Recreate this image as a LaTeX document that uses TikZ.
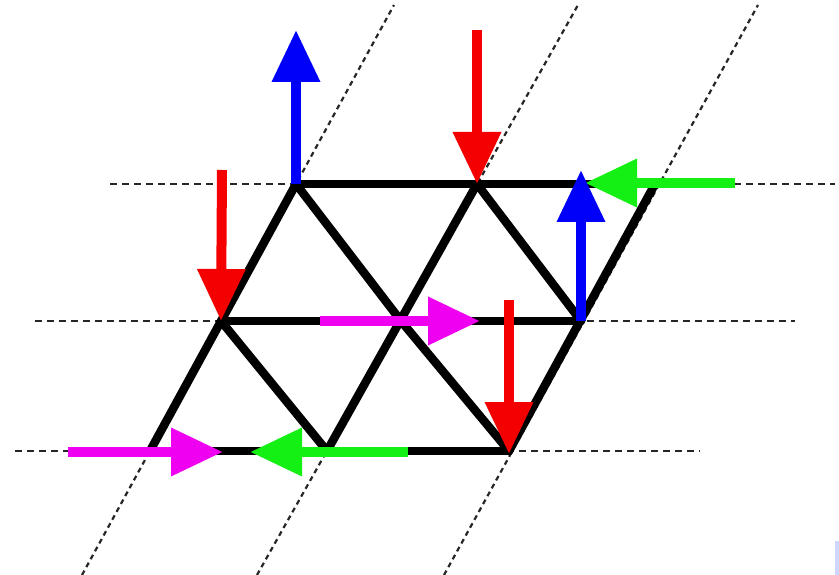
\documentclass[tikz,border=0pt]{standalone}
\usetikzlibrary{arrows.meta}
\begin{document}
\begin{tikzpicture}[x=1pt,y=-1pt,
  guide/.style={black!85,line width=1.5pt,dash pattern=on 7pt off 5pt},
  slant/.style={black!85,line width=2.2pt,dash pattern=on 5pt off 4pt},
  bond/.style={black,line width=8.5pt,line cap=round,line join=round},
  spin/.style={line width=10pt,-{Triangle[length=52pt,width=46pt]}},
]
\useasboundingbox (0,0) rectangle (839,575);
\definecolor{cblue}{RGB}{0,0,250}
\definecolor{cred}{RGB}{245,0,0}
\definecolor{cgreen}{RGB}{20,240,20}
\definecolor{cmag}{RGB}{240,0,240}
\definecolor{cpale}{RGB}{205,215,255}
% lattice vertices
\coordinate (A1) at (150,451);
\coordinate (A2) at (327,451);
\coordinate (A3) at (509,451);
\coordinate (B1) at (221,321);
\coordinate (B2) at (401,321);
\coordinate (B3) at (581,321);
\coordinate (C1) at (296,184);
\coordinate (C2) at (477,184);
\coordinate (C3) at (655,184);
% guide line ends
\coordinate (hCl) at (110,184); \coordinate (hCr) at (835,184);
\coordinate (hBl) at (35,321);  \coordinate (hBr) at (795,321);
\coordinate (hAl) at (15,451);  \coordinate (hAr) at (700,451);
\coordinate (d1a) at (82,575);  \coordinate (d1b) at (394,5);
\coordinate (d2a) at (257,575); \coordinate (d2b) at (578,5);
\coordinate (d3a) at (444,575); \coordinate (d3b) at (758,5);
% dashed guides
\draw[guide] (hCl) -- (hCr);
\draw[guide] (hBl) -- (hBr);
\draw[guide] (hAl) -- (hAr);
\draw[slant] (d1a) -- (d1b);
\draw[slant] (d2a) -- (d2b);
\draw[slant] (d3a) -- (d3b);
% lattice bonds
\draw[bond] (C1) -- (C3);
\draw[bond] (B1) -- (B3);
\draw[bond] (A1) -- (A3);
\draw[bond] (A1) -- (C1);
\draw[bond] (A2) -- (C2);
\draw[bond] (A3) -- (C3);
\draw[bond] (C1) -- (B2) -- (A3);
\draw[bond] (B1) -- (A2);
\draw[bond] (C2) -- (B3);
% spin arrow end points
\coordinate (s1) at (296,30);
\coordinate (s2) at (477,30);
\coordinate (s3) at (222,170);
\coordinate (s4) at (735,183);
\coordinate (s4t) at (585,183);
\coordinate (s5) at (581,170);
\coordinate (s6) at (320,321);
\coordinate (s6t) at (480,321);
\coordinate (s7) at (509,300);
\coordinate (s7t) at (509,454);
\coordinate (s8) at (68,452);
\coordinate (s8t) at (223,452);
\coordinate (s9) at (408,452);
\coordinate (s9t) at (250,452);
% spins
\draw[spin,cgreen] (s4) -- (s4t);
\draw[spin,cblue] (C1) -- (s1);
\draw[spin,cred] (s2) -- (C2);
\draw[spin,cred] (s3) -- (B1);
\draw[spin,cblue] (B3) -- (s5);
\draw[spin,cmag] (s6) -- (s6t);
\draw[spin,cred] (s7) -- (s7t);
\draw[spin,cmag] (s8) -- (s8t);
\draw[spin,cgreen] (s9) -- (s9t);
% corner mark
\fill[cpale] (835,541) rectangle (839,575);
\end{tikzpicture}
\end{document}
